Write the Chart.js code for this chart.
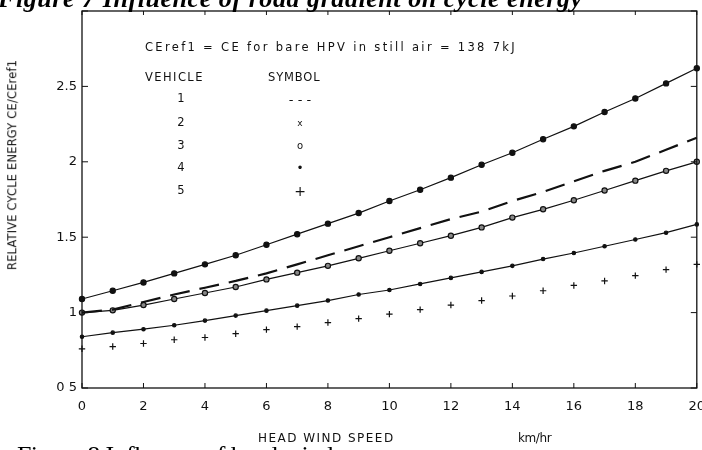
<!DOCTYPE html>
<html>
<head>
<meta charset="utf-8">
<script src="https://cdn.jsdelivr.net/npm/chart.js@4/dist/chart.umd.min.js"></script>
<style>
  html, body { margin: 0; padding: 0; background: #fff; }
  #wrap { position: relative; width: 702px; height: 450px; overflow: hidden; }
  #chart { position: absolute; left: 0; top: 0; }
  .txt { position: absolute; white-space: nowrap; color: #111; font-family: "DejaVu Sans", sans-serif; line-height: 1; }
  .cap { font-family: "Liberation Serif", "Times New Roman", serif; font-size: 26px; line-height: 26px; color: #000; }
</style>
</head>
<body>
<div id="wrap">
  <canvas id="chart" width="702" height="450"></canvas>

  <div class="txt cap" id="capTop" style="left:-2px; top:-14px; font-weight:bold; font-style:italic;">Figure 7  Influence of road gradient on cycle energy</div>
  <div class="txt cap" id="capBot" style="left:17px; top:443px;">Figure 8  Influence of head wind</div>

  <div class="txt" id="note" style="left:145px; top:42px; font-size:11.5px;">CEref1 = CE for bare HPV in still air = 138 7kJ</div>
  <div class="txt" id="hdVeh" style="left:145px; top:72px; font-size:11.5px;">VEHICLE</div>
  <div class="txt" id="hdSym" style="left:268px; top:72px; font-size:11.5px;">SYMBOL</div>
  <div id="legendRows"></div>

  <div class="txt" id="yTitle" style="left:13px; top:165px; font-size:11.5px; transform: translate(-50%,-50%) rotate(-90deg);">RELATIVE CYCLE ENERGY CE/CEref1</div>
  <div class="txt" id="xTitle" style="left:258px; top:432px; font-size:12px;">HEAD WIND SPEED</div>
  <div class="txt" id="xUnit" style="left:518px; top:432px; font-size:12px;">km/hr</div>
</div>

<script>
// head wind speed, km/hr
const speeds = [0, 1, 2, 3, 4, 5, 6, 7, 8, 9, 10, 11, 12, 13, 14, 15, 16, 17, 18, 19, 20];

// relative cycle energy CE/CEref1
const vehicle1 = [1.00, 1.02, 1.07, 1.12, 1.165, 1.21, 1.26, 1.32, 1.38, 1.44, 1.50, 1.56, 1.62, 1.67, 1.74, 1.80, 1.87, 1.94, 2.00, 2.08, 2.16];
const vehicle2 = [0.84, 0.867, 0.89, 0.916, 0.947, 0.98, 1.013, 1.046, 1.08, 1.12, 1.15, 1.19, 1.23, 1.27, 1.31, 1.355, 1.395, 1.44, 1.485, 1.53, 1.585];
const vehicle3 = [1.00, 1.015, 1.05, 1.09, 1.13, 1.17, 1.22, 1.265, 1.31, 1.36, 1.41, 1.46, 1.51, 1.565, 1.63, 1.685, 1.745, 1.81, 1.875, 1.94, 2.00];
const vehicle4 = [1.09, 1.145, 1.20, 1.26, 1.32, 1.38, 1.45, 1.52, 1.59, 1.66, 1.74, 1.815, 1.895, 1.98, 2.06, 2.15, 2.235, 2.33, 2.42, 2.52, 2.62];
const vehicle5 = [0.76, 0.775, 0.795, 0.82, 0.835, 0.86, 0.887, 0.907, 0.934, 0.96, 0.99, 1.02, 1.05, 1.08, 1.11, 1.145, 1.18, 1.21, 1.245, 1.285, 1.32];

// axis ticks
const xTicks = [0, 2, 4, 6, 8, 10, 12, 14, 16, 18, 20];
const yTicks = [0.5, 1, 1.5, 2, 2.5, 3];
const yTickLabels = ["0 5", "1", "1.5", "2", "2.5", ""];

// legend table in the plot
const legendVehicles = ["1", "2", "3", "4", "5"];
const legendSymbols = ["- - -", "x", "o", "•", "+"];

const pts = (ys) => speeds.map((x, i) => ({ x, y: ys[i] }));
const INK = "#111";

// stretch plotter-style text to a given width via letter spacing
function fitWidth(id, w) {
  const el = document.getElementById(id);
  const n = el.textContent.length;
  el.style.letterSpacing = "0px";
  const extra = (w - el.offsetWidth) / Math.max(n, 1);
  el.style.letterSpacing = extra.toFixed(2) + "px";
}

function buildLegend() {
  const box = document.getElementById("legendRows");
  const rowsY = [99, 123, 146, 168, 191];
  const symSize = [13, 9, 10, 12, 14];
  legendVehicles.forEach((v, i) => {
    const a = document.createElement("div");
    a.className = "txt";
    a.style.cssText = `left:181px; top:${rowsY[i]}px; font-size:11.5px; transform:translate(-50%,-50%);`;
    a.textContent = v;
    box.appendChild(a);
    const b = document.createElement("div");
    b.className = "txt";
    b.style.cssText = `left:300px; top:${rowsY[i]}px; font-size:${symSize[i]}px; transform:translate(-50%,-50%);`;
    b.textContent = legendSymbols[i];
    box.appendChild(b);
  });
}

// frame plus inward tick marks on all four sides
const frameTicks = {
  id: "frameTicks",
  afterDraw(chart) {
    const { ctx, chartArea: a, scales } = chart;
    ctx.save();
    ctx.strokeStyle = INK;
    ctx.lineWidth = 1.3;
    ctx.strokeRect(a.left, a.top, a.right - a.left, a.bottom - a.top);
    ctx.lineWidth = 1;
    ctx.beginPath();
    xTicks.forEach((v) => {
      const x = scales.x.getPixelForValue(v);
      ctx.moveTo(x, a.bottom); ctx.lineTo(x, a.bottom - 5);
      ctx.moveTo(x, a.top); ctx.lineTo(x, a.top + 4);
    });
    yTicks.forEach((v) => {
      const y = scales.y.getPixelForValue(v);
      ctx.moveTo(a.left, y); ctx.lineTo(a.left + 6, y);
      ctx.moveTo(a.right, y); ctx.lineTo(a.right - 6, y);
    });
    ctx.stroke();
    ctx.restore();
  },
};

function renderChart() {
  buildLegend();
  fitWidth("capTop", 585);
  fitWidth("capBot", 315);
  fitWidth("note", 372);
  fitWidth("hdVeh", 59);
  fitWidth("hdSym", 52);
  fitWidth("yTitle", 210);
  fitWidth("xTitle", 137);
  fitWidth("xUnit", 33);

  const tickFont = { family: "DejaVu Sans", size: 13 };

  new Chart(document.getElementById("chart"), {
    type: "line",
    data: {
      datasets: [
        { label: "4", data: pts(vehicle4), borderColor: INK, borderWidth: 1.2, pointRadius: 2.6, pointBackgroundColor: INK, pointBorderColor: INK, clip: 6 },
        { label: "1", data: pts(vehicle1), borderColor: INK, borderWidth: 2.2, borderDash: [20, 10], pointRadius: 0, clip: 6 },
        { label: "3", data: pts(vehicle3), borderColor: INK, borderWidth: 1.2, pointRadius: 2.6, pointBackgroundColor: "#888", pointBorderColor: INK, pointBorderWidth: 1.2, clip: 6 },
        { label: "2", data: pts(vehicle2), borderColor: INK, borderWidth: 1.2, pointRadius: 1.7, pointBackgroundColor: INK, pointBorderColor: INK, clip: 6 },
        { label: "5", data: pts(vehicle5), showLine: false, pointStyle: "cross", pointRadius: 3.2, pointBorderWidth: 1.2, pointBorderColor: INK, clip: 6 },
      ],
    },
    options: {
      responsive: false,
      animation: false,
      layout: { padding: { top: 11, right: 2, left: 0, bottom: 0 } },
      elements: { line: { tension: 0 } },
      scales: {
        x: {
          type: "linear", min: 0, max: 20,
          afterBuildTicks: (s) => { s.ticks = xTicks.map((v) => ({ value: v })); },
          // let the "20" label run off the right edge, as in the scan
          afterFit: (s) => { s.height = 62; s.paddingRight = 0; s.paddingLeft = 0; },
          grid: { display: false, drawTicks: false },
          border: { display: false },
          ticks: { color: INK, font: tickFont, padding: 11, maxRotation: 0, callback: (v) => String(v) },
        },
        y: {
          type: "linear", min: 0.5, max: 3,
          afterBuildTicks: (s) => { s.ticks = yTicks.map((v) => ({ value: v })); },
          afterFit: (s) => { s.width = 82; s.paddingTop = 0; s.paddingBottom = 0; },
          grid: { display: false, drawTicks: false },
          border: { display: false },
          ticks: { color: INK, font: tickFont, padding: 5, callback: (v) => yTickLabels[yTicks.indexOf(v)] },
        },
      },
      plugins: { legend: { display: false }, tooltip: { enabled: false } },
    },
    plugins: [frameTicks],
  });
}

document.addEventListener("DOMContentLoaded", renderChart);
</script>
</body>
</html>
